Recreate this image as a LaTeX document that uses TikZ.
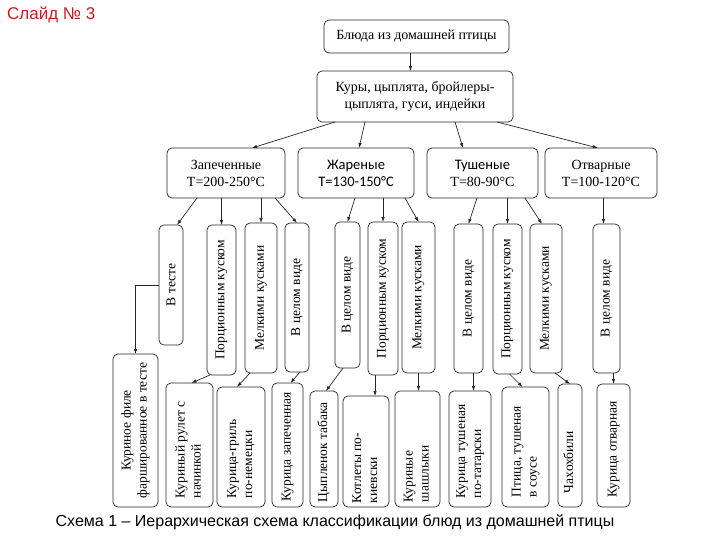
\documentclass[tikz,border=0pt]{standalone}
\usepackage{graphicx}
\usepackage{fontspec}
\setmainfont{Liberation Serif}
\newfontfamily\sansfont{Liberation Sans}
\newfontfamily\califont{Carlito}
\usetikzlibrary{positioning,calc,arrows.meta}
\definecolor{slidered}{RGB}{200,30,30}
\newcommand{\vtext}[2]{\rotatebox{90}{\makebox[#1][l]{\begin{tabular}{@{}l@{}}#2\end{tabular}}}}

\begin{document}
\begin{tikzpicture}[x=1pt,y=-1pt]
    \tikzstyle{box}=[draw=black!85, line width=0.7pt, fill=white, rounded corners=5pt, inner sep=0pt, outer sep=0pt, align=center, anchor=north west, font=\fontsize{14}{17}\selectfont]
    \tikzstyle{vbox}=[box, font=\fontsize{13.5}{16}\selectfont]
    \tikzstyle{arr}=[draw=black!85, line width=0.7pt, -{Latex[length=5pt,width=3.5pt]}]
    \useasboundingbox (0,0) rectangle (720,540);

    \node (title) [anchor=north west, inner sep=0pt, text=slidered, font=\sansfont\fontsize{17}{20}\selectfont] at (7,7) {Слайд № 3};

    % top levels
    \node (dishes) [box, minimum width=185pt, minimum height=33pt] at (324,20) {Блюда из домашней птицы};
    \node (poultry) [box, minimum width=196pt, minimum height=51pt] at (317,71) {Куры, цыплята, бройлеры-\\цыплята, гуси, индейки};
    \node (baked) [box, minimum width=118pt, minimum height=50pt] at (167,148) {Запеченные\\T=200-250°C};
    \node (fried) [box, minimum width=116pt, minimum height=50pt, font=\califont\fontsize{14.5}{17}\selectfont] at (298,148) {Жареные\\T=130-150°C};
    \node (stewed) [box, minimum width=111pt, minimum height=50pt] at (427,148) {{\califont\fontsize{14.5}{17}\selectfont Тушеные}\\T=80-90°C};
    \node (boiled) [box, minimum width=112pt, minimum height=50pt] at (545,148) {Отварные\\T=100-120°C};

    \draw [arr] ([xshift=-6pt]dishes.south) -- ([xshift=-6pt]dishes.south |- poultry.north);
    \draw [arr] ([xshift=18pt]poultry.south west) -- ([xshift=85pt]baked.north west);
    \draw [arr] ([xshift=48pt]poultry.south west) -- ([xshift=61pt]fried.north west);
    \draw [arr] ([xshift=138pt]poultry.south west) -- ([xshift=36pt]stewed.north west);
    \draw [arr] ([xshift=180pt]poultry.south west) -- ([xshift=53pt]boiled.north west);

    % ways of cooking
    \node (bakedDough) [vbox, minimum width=24pt, minimum height=120pt] at (159,225) {\rotatebox{90}{В тесте}};
    \node (bakedPortion) [vbox, minimum width=29pt, minimum height=150pt] at (207,225) {\rotatebox{90}{Порционным куском}};
    \node (bakedSmall) [vbox, minimum width=32pt, minimum height=150pt] at (245,223) {\rotatebox{90}{Мелкими кусками}};
    \node (bakedWhole) [vbox, minimum width=24pt, minimum height=149pt] at (285,223) {\rotatebox{90}{В целом виде}};
    \node (friedWhole) [vbox, minimum width=25pt, minimum height=146pt] at (335,222) {\rotatebox{90}{В целом виде}};
    \node (friedPortion) [vbox, minimum width=30pt, minimum height=153pt] at (368,222) {\rotatebox{90}{Порционным куском}};
    \node (friedSmall) [vbox, minimum width=33pt, minimum height=151pt] at (402,222) {\rotatebox{90}{Мелкими кусками}};
    \node (stewedWhole) [vbox, minimum width=29pt, minimum height=149pt] at (454,224) {\rotatebox{90}{В целом виде}};
    \node (stewedPortion) [vbox, minimum width=29pt, minimum height=150pt] at (493,224) {\rotatebox{90}{Порционным куском}};
    \node (stewedSmall) [vbox, minimum width=32pt, minimum height=149pt] at (530,224) {\rotatebox{90}{Мелкими кусками}};
    \node (boiledWhole) [vbox, minimum width=27pt, minimum height=149pt] at (593,224) {\rotatebox{90}{В целом виде}};

    \draw [arr] ([xshift=30pt]baked.south west) -- ([xshift=6pt]bakedDough.north);
    \draw [arr] (bakedPortion.north |- baked.south) -- (bakedPortion.north);
    \draw [arr] (bakedSmall.north |- baked.south) -- (bakedSmall.north);
    \draw [arr] ([xshift=108pt]baked.south west) -- (bakedWhole.north);
    \draw [arr] ([xshift=57pt]fried.south west) -- (friedWhole.north);
    \draw [arr] (friedPortion.north |- fried.south) -- (friedPortion.north);
    \draw [arr] ([xshift=107pt]fried.south west) -- (friedSmall.north);
    \draw [arr] ([xshift=50pt]stewed.south west) -- (stewedWhole.north);
    \draw [arr] (stewedPortion.north |- stewed.south) -- (stewedPortion.north);
    \draw [arr] ([xshift=98pt]stewed.south west) -- ([xshift=-4pt]stewedSmall.north);
    \draw [arr] ([xshift=-3pt]boiledWhole.north |- boiled.south) -- ([xshift=-3pt]boiledWhole.north);

    % dishes
    \node (filletDish) [vbox, minimum width=45pt, minimum height=153pt] at (113,354) {\rotatebox{90}{\begin{tabular}{@{}c@{}}Куриное филе\\фаршированное в тесте\end{tabular}}};
    \node (rollDish) [vbox, minimum width=47pt, minimum height=124pt] at (166,383) {\vtext{106pt}{Куриный рулет с\\начинкой}};
    \node (grillDish) [vbox, minimum width=48pt, minimum height=120pt] at (217,387) {\vtext{102pt}{Курица-гриль\\по-немецки}};
    \node (bakedDish) [vbox, minimum width=31pt, minimum height=124pt] at (272,383) {\vtext{112pt}{Курица запеченная}};
    \node (tabakaDish) [vbox, minimum width=28pt, minimum height=116pt] at (310,391) {\vtext{106pt}{Цыпленок табака}};
    \node (kievDish) [vbox, minimum width=46pt, minimum height=111pt] at (343,396) {\vtext{103pt}{Котлеты по-\\киевски}};
    \node (kebabDish) [vbox, minimum width=45pt, minimum height=116pt] at (395,391) {\vtext{106pt}{Куриные\\шашлыки}};
    \node (tatarDish) [vbox, minimum width=42pt, minimum height=116pt] at (449,391) {\vtext{98pt}{Курица тушеная\\по-татарски}};
    \node (sauceDish) [vbox, minimum width=47pt, minimum height=120pt] at (502,387) {\vtext{100pt}{Птица, тушеная\\в соусе}};
    \node (chakhDish) [vbox, minimum width=24pt, minimum height=123pt] at (558,384) {\vtext{95pt}{Чахохбили}};
    \node (boiledDish) [vbox, minimum width=33pt, minimum height=123pt] at (597,384) {\vtext{103pt}{Курица отварная}};

    \draw [arr] (bakedDough.west) -| (filletDish.north);
    \draw [arr] ([xshift=3pt]bakedPortion.south west) -- ([xshift=2pt]rollDish.north);
    \draw [arr] ([xshift=5pt]bakedSmall.south west) -- ([xshift=-4pt]grillDish.north);
    \draw [arr] ([xshift=3pt]bakedWhole.south) -- ([xshift=3pt]bakedDish.north);
    \draw [arr] ([xshift=8pt]friedWhole.south west) -- ([xshift=2pt]tabakaDish.north);
    \draw [arr] ([xshift=-8pt]friedPortion.south) -- ([xshift=-8pt]friedPortion.south |- kievDish.north);
    \draw [arr] (friedSmall.south) -- (friedSmall.south |- kebabDish.north);
    \draw [arr] ([xshift=5pt]stewedWhole.south) -- ([xshift=5pt]stewedWhole.south |- tatarDish.north);
    \draw [arr] ([xshift=2pt]stewedPortion.south) -- ([xshift=-3pt]sauceDish.north);
    \draw [arr] ([xshift=9pt]stewedSmall.south) -- (chakhDish.north);
    \draw [arr] (boiledDish.north |- boiledWhole.south) -- (boiledDish.north);

    \node (caption) [font=\sansfont\fontsize{16}{19}\selectfont, inner sep=0pt] at (335,522) {Схема 1 – Иерархическая схема классификации блюд из домашней птицы};
\end{tikzpicture}
\end{document}
